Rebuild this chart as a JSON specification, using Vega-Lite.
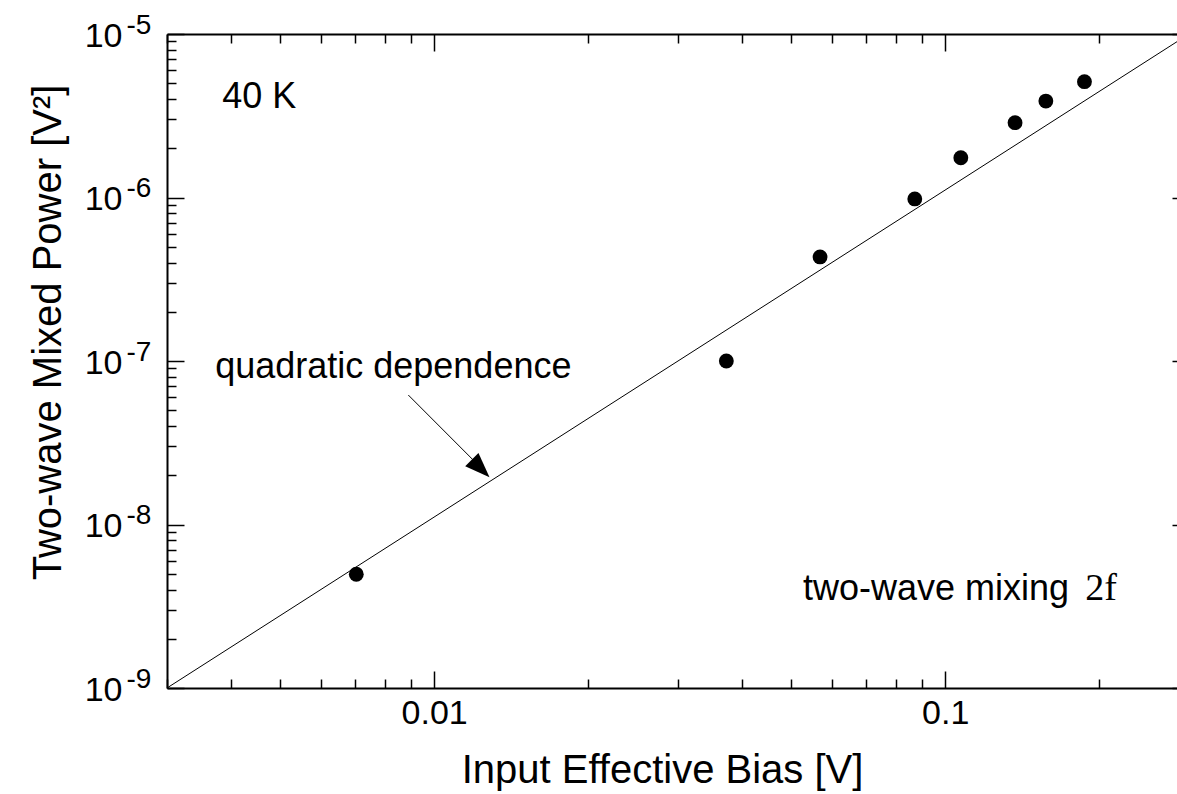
{
  "$schema": "https://vega.github.io/schema/vega-lite/v6.json",
  "width": 1022,
  "height": 654,
  "autosize": {"type": "none"},
  "padding": {"left": 167, "top": 34, "right": -12, "bottom": 106},
  "background": "white",
  "config": {
    "font": "Liberation Sans",
    "view": {"stroke": null},
    "axis": {
      "domainColor": "black", "domainWidth": 2,
      "tickColor": "black", "tickWidth": 1.5,
      "grid": false,
      "labelColor": "black", "titleColor": "black",
      "labelFont": "Liberation Sans", "titleFont": "Liberation Sans",
      "labelFontSize": 34, "titleFontSize": 40, "titleFontWeight": "normal",
      "labelOverlap": false, "labelFlush": false
    }
  },
  "datasets": {
    "points": [
      {"v": 0.00704, "p": 4.96e-9},
      {"v": 0.0373, "p": 1.0e-7},
      {"v": 0.0569, "p": 4.33e-7},
      {"v": 0.0872, "p": 9.8e-7},
      {"v": 0.1073, "p": 1.75e-6},
      {"v": 0.137, "p": 2.87e-6},
      {"v": 0.1574, "p": 3.89e-6},
      {"v": 0.1873, "p": 5.11e-6}
    ],
    "fit": [
      {"v": 0.003, "p": 1e-9},
      {"v": 0.3, "p": 1e-5}
    ],
    "arrow": [
      {"v": 0.0089, "p": 6.19e-8, "v2": 0.01203, "p2": 2.41e-8}
    ],
    "head": [
      {"v": 0.01233, "p": 2.2e-8}
    ],
    "notes": [
      {"v": 0.003847, "p": 3.53e-6, "label": "40 K"},
      {"v": 0.003727, "p": 7.87e-8, "label": "quadratic dependence"},
      {"v": 0.0527, "p": 3.45e-9, "label": "two-wave mixing"}
    ],
    "notes2": [
      {"v": 0.188, "p": 3.45e-9, "label": "2f"}
    ]
  },
  "layer": [
    {
      "data": {"name": "fit"},
      "mark": {"type": "line", "color": "black", "strokeWidth": 1},
      "encoding": {
        "x": {
          "field": "v", "type": "quantitative",
          "scale": {"type": "log", "domain": [0.003, 0.3], "nice": false},
          "axis": {
            "orient": "bottom",
            "values": [0.003,0.004,0.005,0.006,0.007,0.008,0.009,0.01,0.02,0.03,0.04,0.05,0.06,0.07,0.08,0.09,0.1,0.2,0.3],
            "labelExpr": "datum.value == 0.01 ? '0.01' : datum.value == 0.1 ? '0.1' : ''",
            "tickSize": {"condition": {"test": "abs(log(datum.value)/LN10 - round(log(datum.value)/LN10)) < 0.001", "value": -17}, "value": -9},
            "labelPadding": 25,
            "title": "Input Effective Bias [V]",
            "titleX": 495, "titleY": 82, "titleBaseline": "middle"
          }
        },
        "y": {
          "field": "p", "type": "quantitative",
          "scale": {"type": "log", "domain": [1e-9, 1e-5], "nice": false},
          "axis": {
            "orient": "left",
            "values": [1e-9,2e-9,3e-9,4e-9,5e-9,6e-9,7e-9,8e-9,9e-9,1e-8,2e-8,3e-8,4e-8,5e-8,6e-8,7e-8,8e-8,9e-8,1e-7,2e-7,3e-7,4e-7,5e-7,6e-7,7e-7,8e-7,9e-7,1e-6,2e-6,3e-6,4e-6,5e-6,6e-6,7e-6,8e-6,9e-6,1e-5],
            "labelExpr": "abs(log(datum.value)/LN10 - round(log(datum.value)/LN10)) < 0.001 ? '10' : ''",
            "tickSize": {"condition": {"test": "abs(log(datum.value)/LN10 - round(log(datum.value)/LN10)) < 0.001", "value": -17}, "value": -9},
            "labelPadding": 62,
            "labelOffset": 2,
            "title": "Two-wave Mixed Power [V²]",
            "titleX": -119, "titleY": 298, "titleBaseline": "middle"
          }
        }
      }
    },
    {
      "data": {"name": "points"},
      "mark": {"type": "circle", "color": "black", "opacity": 1, "size": 220},
      "encoding": {
        "x": {
          "field": "v", "type": "quantitative",
          "scale": {"type": "log", "domain": [0.003, 0.3], "nice": false},
          "axis": {
            "orient": "top",
            "values": [0.003,0.004,0.005,0.006,0.007,0.008,0.009,0.01,0.02,0.03,0.04,0.05,0.06,0.07,0.08,0.09,0.1,0.2,0.3],
            "labels": false, "title": null,
            "tickSize": {"condition": {"test": "abs(log(datum.value)/LN10 - round(log(datum.value)/LN10)) < 0.001", "value": -17}, "value": -9}
          }
        },
        "y": {
          "field": "p", "type": "quantitative",
          "scale": {"type": "log", "domain": [1e-9, 1e-5], "nice": false},
          "axis": {
            "orient": "right",
            "values": [1e-9,2e-9,3e-9,4e-9,5e-9,6e-9,7e-9,8e-9,9e-9,1e-8,2e-8,3e-8,4e-8,5e-8,6e-8,7e-8,8e-8,9e-8,1e-7,2e-7,3e-7,4e-7,5e-7,6e-7,7e-7,8e-7,9e-7,1e-6,2e-6,3e-6,4e-6,5e-6,6e-6,7e-6,8e-6,9e-6,1e-5],
            "labels": false, "title": null,
            "tickSize": {"condition": {"test": "abs(log(datum.value)/LN10 - round(log(datum.value)/LN10)) < 0.001", "value": -17}, "value": -9}
          }
        }
      }
    },
    {
      "data": {"name": "arrow"},
      "mark": {"type": "rule", "color": "black", "strokeWidth": 1},
      "encoding": {
        "x": {"field": "v", "type": "quantitative", "axis": null},
        "y": {
          "field": "p", "type": "quantitative",
          "axis": {
            "orient": "left",
            "values": [1e-9, 1e-8, 1e-7, 1e-6, 1e-5],
            "labelExpr": "datum.value == 1e-5 ? '-5' : datum.value == 1e-6 ? '-6' : datum.value == 1e-7 ? '-7' : datum.value == 1e-8 ? '-8' : '-9'",
            "domain": false, "ticks": false, "title": null,
            "labelAlign": "left", "labelBaseline": "middle",
            "labelPadding": 41, "labelOffset": -9,
            "labelFontSize": 28
          }
        },
        "x2": {"field": "v2"},
        "y2": {"field": "p2"}
      }
    },
    {
      "data": {"name": "head"},
      "mark": {"type": "point", "shape": "M0,-1L0.75,1L-0.75,1Z", "filled": true, "color": "black", "opacity": 1, "size": 625, "angle": 135},
      "encoding": {
        "x": {"field": "v", "type": "quantitative", "axis": null},
        "y": {"field": "p", "type": "quantitative", "axis": null}
      }
    },
    {
      "data": {"name": "notes"},
      "mark": {"type": "text", "align": "left", "baseline": "alphabetic", "fontSize": 36, "color": "black", "font": "Liberation Sans"},
      "encoding": {
        "x": {"field": "v", "type": "quantitative", "axis": null},
        "y": {"field": "p", "type": "quantitative", "axis": null},
        "text": {"field": "label"}
      }
    },
    {
      "data": {"name": "notes2"},
      "mark": {"type": "text", "align": "left", "baseline": "alphabetic", "fontSize": 38, "color": "black", "font": "Liberation Serif"},
      "encoding": {
        "x": {"field": "v", "type": "quantitative", "axis": null},
        "y": {"field": "p", "type": "quantitative", "axis": null},
        "text": {"field": "label"}
      }
    }
  ],
  "resolve": {"axis": {"x": "independent", "y": "independent"}}
}
